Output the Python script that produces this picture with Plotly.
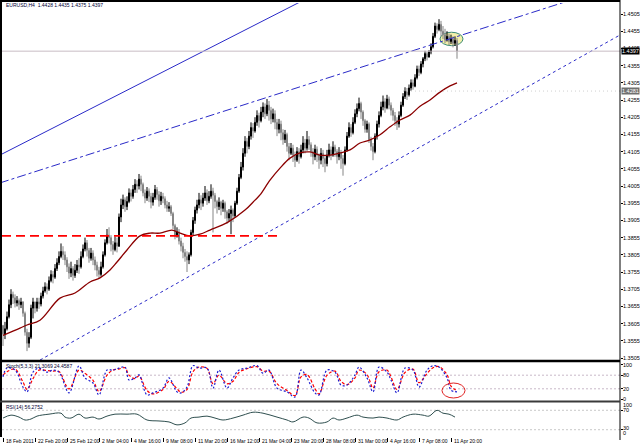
import plotly.graph_objects as go

# ---------------- data ----------------
first_open = 1.3600
bar_close = [
    1.3575, 1.3590, 1.3625, 1.3660, 1.3690, 1.3680, 1.3665, 1.3672, 1.3660, 1.3668,
    1.3635, 1.3580, 1.3548, 1.3565, 1.3650, 1.3668, 1.3650, 1.3668, 1.3662, 1.3685,
    1.3700, 1.3712, 1.3705, 1.3730, 1.3748, 1.3740, 1.3765, 1.3782, 1.3800, 1.3815,
    1.3805, 1.3790, 1.3770, 1.3752, 1.3765, 1.3745, 1.3760, 1.3775, 1.3770, 1.3800,
    1.3822, 1.3840, 1.3818, 1.3795, 1.3810, 1.3790, 1.3775, 1.3760, 1.3748, 1.3770,
    1.3805, 1.3840, 1.3862, 1.3855, 1.3835, 1.3820, 1.3840, 1.3830, 1.3915, 1.3950,
    1.3965, 1.3945, 1.3960, 1.3985, 1.3975, 1.3995, 1.4010, 1.4005, 1.4025, 1.4010,
    1.3985, 1.3970, 1.3990, 1.3975, 1.3958, 1.3972, 1.3995, 1.3980, 1.3962, 1.3975,
    1.3968, 1.3950, 1.3940, 1.3945, 1.3925, 1.3890, 1.3860, 1.3872, 1.3845, 1.3830,
    1.3812, 1.3800, 1.3790, 1.3805, 1.3870, 1.3905, 1.3935, 1.3950, 1.3965, 1.3955,
    1.3970, 1.3985, 1.3962, 1.3975, 1.3990, 1.3978, 1.3960, 1.3945, 1.3958, 1.3940,
    1.3955, 1.3930, 1.3912, 1.3925, 1.3935, 1.3918, 1.3955, 1.3990, 1.4030, 1.4060,
    1.4100, 1.4135, 1.4120, 1.4150, 1.4175, 1.4165, 1.4190, 1.4210, 1.4195, 1.4220,
    1.4235, 1.4215, 1.4240, 1.4225, 1.4200, 1.4215, 1.4190, 1.4170, 1.4185, 1.4160,
    1.4140, 1.4155, 1.4120, 1.4100, 1.4115, 1.4095, 1.4080, 1.4105, 1.4090, 1.4110,
    1.4130, 1.4115, 1.4140, 1.4125, 1.4105, 1.4090, 1.4112, 1.4095, 1.4080, 1.4100,
    1.4085, 1.4070, 1.4095, 1.4110, 1.4095, 1.4118, 1.4105, 1.4090, 1.4102, 1.4085,
    1.4070, 1.4110, 1.4150, 1.4175, 1.4160, 1.4190, 1.4215, 1.4230, 1.4245, 1.4220,
    1.4195, 1.4170, 1.4185, 1.4140, 1.4120, 1.4105, 1.4150, 1.4185, 1.4210, 1.4235,
    1.4250, 1.4232, 1.4258, 1.4240, 1.4225, 1.4210, 1.4195, 1.4185, 1.4210, 1.4240,
    1.4265, 1.4280, 1.4270, 1.4290, 1.4305, 1.4295, 1.4320, 1.4345, 1.4335, 1.4360,
    1.4375, 1.4390, 1.4380, 1.4395, 1.4410, 1.4440, 1.4470, 1.4460, 1.4475, 1.4455,
    1.4445, 1.4430, 1.4440, 1.4425, 1.4432, 1.4420, 1.4428, 1.4397,
]
bar_high = [
    1.3600, 1.3610, 1.3640, 1.3675, 1.3705, 1.3698, 1.3690, 1.3685, 1.3678, 1.3680,
    1.3670, 1.3640, 1.3590, 1.3580, 1.3660, 1.3680, 1.3668, 1.3680, 1.3680, 1.3695,
    1.3712, 1.3725, 1.3722, 1.3742, 1.3760, 1.3758, 1.3778, 1.3795, 1.3815, 1.3838,
    1.3830, 1.3815, 1.3798, 1.3780, 1.3785, 1.3772, 1.3778, 1.3790, 1.3795, 1.3815,
    1.3835, 1.3855, 1.3848, 1.3825, 1.3825, 1.3818, 1.3800, 1.3785, 1.3770, 1.3785,
    1.3815, 1.3850, 1.3880, 1.3885, 1.3862, 1.3845, 1.3858, 1.3855, 1.3925, 1.3968,
    1.3980, 1.3972, 1.3975, 1.3998, 1.3995, 1.4008, 1.4025, 1.4022, 1.4040, 1.4035,
    1.4015, 1.3995, 1.4002, 1.3998, 1.3985, 1.3985, 1.4008, 1.4002, 1.3990, 1.3988,
    1.3985, 1.3975, 1.3962, 1.3958, 1.3950, 1.3930, 1.3895, 1.3885, 1.3880, 1.3855,
    1.3840, 1.3822, 1.3815, 1.3812, 1.3878, 1.3915, 1.3945, 1.3965, 1.3985, 1.3978,
    1.3985, 1.4005, 1.3995, 1.3990, 1.4010, 1.4000, 1.3985, 1.3965, 1.3972, 1.3962,
    1.3965, 1.3960, 1.3935, 1.3938, 1.3948, 1.3940, 1.3962, 1.4000, 1.4040, 1.4075,
    1.4115, 1.4150, 1.4145, 1.4165, 1.4190, 1.4188, 1.4205, 1.4225, 1.4218, 1.4235,
    1.4248, 1.4245, 1.4258, 1.4252, 1.4235, 1.4230, 1.4225, 1.4200, 1.4200, 1.4195,
    1.4170, 1.4168, 1.4160, 1.4130, 1.4130, 1.4125, 1.4105, 1.4118, 1.4115, 1.4125,
    1.4150, 1.4142, 1.4165, 1.4150, 1.4132, 1.4115, 1.4125, 1.4120, 1.4100, 1.4115,
    1.4110, 1.4095, 1.4110, 1.4128, 1.4120, 1.4135, 1.4125, 1.4112, 1.4118, 1.4110,
    1.4095, 1.4120, 1.4162, 1.4190, 1.4185, 1.4205, 1.4228, 1.4245, 1.4262, 1.4250,
    1.4225, 1.4200, 1.4195, 1.4190, 1.4148, 1.4130, 1.4158, 1.4195, 1.4222, 1.4250,
    1.4268, 1.4260, 1.4270, 1.4265, 1.4248, 1.4232, 1.4220, 1.4205, 1.4222, 1.4250,
    1.4275, 1.4292, 1.4290, 1.4300, 1.4315, 1.4315, 1.4330, 1.4355, 1.4355, 1.4368,
    1.4380, 1.4398, 1.4395, 1.4400, 1.4420, 1.4450, 1.4480, 1.4478, 1.4490, 1.4485,
    1.4470, 1.4462, 1.4455, 1.4448, 1.4445, 1.4440, 1.4440, 1.4435,
]
bar_low = [
    1.3540, 1.3560, 1.3585, 1.3620, 1.3650, 1.3662, 1.3652, 1.3655, 1.3645, 1.3650,
    1.3625, 1.3570, 1.3525, 1.3535, 1.3560, 1.3620, 1.3635, 1.3640, 1.3648, 1.3655,
    1.3678, 1.3695, 1.3690, 1.3700, 1.3725, 1.3722, 1.3735, 1.3758, 1.3775, 1.3795,
    1.3790, 1.3775, 1.3755, 1.3735, 1.3740, 1.3730, 1.3738, 1.3752, 1.3750, 1.3765,
    1.3795, 1.3815, 1.3800, 1.3782, 1.3788, 1.3775, 1.3760, 1.3742, 1.3735, 1.3742,
    1.3765, 1.3800, 1.3835, 1.3838, 1.3815, 1.3805, 1.3815, 1.3812, 1.3828, 1.3900,
    1.3938, 1.3930, 1.3935, 1.3955, 1.3960, 1.3968, 1.3985, 1.3985, 1.3995, 1.3990,
    1.3975, 1.3955, 1.3962, 1.3958, 1.3940, 1.3948, 1.3965, 1.3965, 1.3945, 1.3950,
    1.3955, 1.3940, 1.3930, 1.3930, 1.3918, 1.3880, 1.3850, 1.3855, 1.3835, 1.3815,
    1.3795, 1.3785, 1.3755, 1.3778, 1.3800, 1.3860, 1.3895, 1.3925, 1.3940, 1.3935,
    1.3945, 1.3962, 1.3950, 1.3955, 1.3968, 1.3870, 1.3940, 1.3925, 1.3935, 1.3920,
    1.3930, 1.3910, 1.3895, 1.3902, 1.3865, 1.3900, 1.3912, 1.3950, 1.3985, 1.4025,
    1.4050, 1.4090, 1.4100, 1.4112, 1.4140, 1.4145, 1.4160, 1.4180, 1.4175, 1.4190,
    1.4205, 1.4200, 1.4208, 1.4195, 1.4185, 1.4190, 1.4170, 1.4150, 1.4158, 1.4138,
    1.4125, 1.4130, 1.4105, 1.4080, 1.4095, 1.4075, 1.4060, 1.4075, 1.4070, 1.4085,
    1.4100, 1.4100, 1.4108, 1.4110, 1.4090, 1.4068, 1.4080, 1.4075, 1.4055, 1.4068,
    1.4060, 1.4045, 1.4062, 1.4088, 1.4080, 1.4090, 1.4090, 1.4070, 1.4080, 1.4055,
    1.4035, 1.4065, 1.4105, 1.4145, 1.4148, 1.4155, 1.4185, 1.4205, 1.4222, 1.4200,
    1.4180, 1.4160, 1.4160, 1.4130, 1.4108, 1.4080, 1.4100, 1.4140, 1.4175, 1.4205,
    1.4225, 1.4218, 1.4228, 1.4228, 1.4210, 1.4195, 1.4180, 1.4168, 1.4175, 1.4205,
    1.4235, 1.4258, 1.4255, 1.4265, 1.4282, 1.4285, 1.4292, 1.4315, 1.4325, 1.4330,
    1.4350, 1.4368, 1.4370, 1.4378, 1.4388, 1.4405, 1.4435, 1.4448, 1.4455, 1.4440,
    1.4432, 1.4420, 1.4425, 1.4415, 1.4418, 1.4408, 1.4412, 1.4375,
]
bar_open = [first_open] + bar_close[:-1]
bar_index = list(range(len(bar_close)))

# moving average
ma_bar = [0, 8.5, 12, 18.5, 28.5, 36, 43.5, 48.5, 53.5, 57, 62, 68.5, 73.5, 78.5, 84.5,
          88.5, 93.5, 98.5, 103.5, 112.5, 121, 126, 128.5, 133.5, 138.5, 143.5, 148.5,
          153.5, 158.5, 163.5, 168.5, 173.5, 178.5, 183.5, 188.5, 193.5, 198.5, 203.5,
          208.5, 213.5, 218.5, 223.5, 227]
ma_value = [1.3571, 1.3592, 1.3601, 1.3615, 1.3679, 1.3694, 1.3726, 1.3738, 1.3761, 1.3784,
            1.3819, 1.3860, 1.3868, 1.3868, 1.3877, 1.3868, 1.3860, 1.3865, 1.3877, 1.3900,
            1.3935, 1.3964, 1.3979, 1.4022, 1.4057, 1.4086, 1.4101, 1.4104, 1.4095, 1.4095,
            1.4101, 1.4110, 1.4130, 1.4139, 1.4154, 1.4177, 1.4197, 1.4211, 1.4237, 1.4255,
            1.4278, 1.4296, 1.4305]

# hand-drawn objects (bar index, price)
resistance_level = 1.3860
resistance_end_bar = 138.5
current_price = 1.4397
marked_level = 1.4281
channel_low = [(18.5, 1.3499), (308.5, 1.4444)]
channel_mid = [(-1.5, 1.4014), (281.0, 1.4540)]
channel_top = [(-1.5, 1.4095), (148.5, 1.4540)]

# stochastic (5,3,3)
stoch_bar = [0, 2, 6, 10, 12, 15, 18, 22, 25, 28, 33, 38, 41, 45, 48, 52, 55, 58, 61, 63,
             66, 68, 72, 75, 80, 83, 87, 89, 92, 95, 98, 102, 105, 108, 112, 115, 118, 122,
             127, 130, 133, 137, 142, 146, 149, 152, 156, 158, 162, 166, 169, 172, 176, 178,
             182, 185, 188, 192, 194, 197, 201, 205, 208, 212, 215, 218, 222, 224, 227]
stoch_main = [65, 91, 85, 35, 21, 79, 91, 79, 85, 79, 18, 97, 62, 47, 12, 85, 85, 91, 94, 56,
              62, 71, 12, 18, 32, 62, 21, 18, 35, 98, 91, 91, 32, 85, 32, 62, 85, 91,
              98, 76, 85, 32, 21, 6, 85, 62, 18, 12, 85, 79, 41, 41, 71, 94,
              62, 21, 94, 79, 56, 18, 91, 85, 35, 85, 98, 94, 62, 26, 21]
stoch_signal = [70, 80, 88, 50, 28, 60, 85, 84, 82, 81, 30, 85, 75, 55, 22, 70, 85, 88, 92, 70,
                60, 68, 25, 15, 28, 52, 30, 20, 28, 80, 94, 90, 45, 70, 45, 52, 78, 89,
                95, 82, 82, 45, 25, 10, 65, 72, 30, 15, 70, 82, 52, 42, 62, 85,
                72, 32, 80, 85, 65, 28, 78, 88, 48, 75, 92, 95, 72, 38, 24]

# RSI(14)
rsi_bar = [0, 4, 8, 11, 14, 17, 23, 29, 31, 34, 38, 41, 45, 48, 52, 56, 62, 67, 72, 78,
           83, 87, 91, 94, 98, 102, 106, 110, 115, 120, 125, 130, 137, 142, 145, 150, 153,
           157, 162, 165, 168, 172, 177, 180, 185, 188, 192, 197, 200, 205, 210, 213, 217,
           220, 223, 226]
rsi_value = [54, 60, 56, 50, 52, 58, 62, 64, 56, 54, 62, 54, 56, 52, 58, 62, 62, 62, 50, 48,
             46, 40, 44, 54, 56, 58, 54, 50, 54, 60, 66, 64, 56, 50, 46, 56, 54,
             44, 46, 54, 50, 54, 60, 56, 54, 56, 54, 50, 56, 62, 60, 58, 70,
             64, 62, 56]

# axis labels
price_ticks = [1.3505, 1.3555, 1.3605, 1.3655, 1.3705, 1.3755, 1.3805, 1.3855, 1.3905,
               1.3955, 1.4005, 1.4055, 1.4105, 1.4155, 1.4205, 1.4255, 1.4305, 1.4355,
               1.4405, 1.4455, 1.4505]
date_label_bar = [0, 16, 32, 48, 64, 80, 96, 112, 128, 144, 160, 176, 192, 208, 224]
date_labels = ["18 Feb 2011", "22 Feb 20:00", "25 Feb 12:00", "2 Mar 04:00", "4 Mar 16:00",
               "9 Mar 08:00", "11 Mar 20:00", "16 Mar 12:00", "21 Mar 04:00", "23 Mar 20:00",
               "28 Mar 08:00", "31 Mar 00:00", "4 Apr 16:00", "7 Apr 08:00", "11 Apr 20:00"]
stoch_levels = [30, 70]
stoch_label_vals = [100, 70, 30, 0]
stoch_label_text = ["100", "80", "20", "0"]
rsi_levels = [30, 70]
rsi_label_text = ["100", "70", "30", "0"]

header_main = "EURUSD,H4  1.4428 1.4435 1.4375 1.4397"
header_stoch = "Stoch(5,3,3) 21.3069 24.4587"
header_rsi = "RSI(14) 56.2752"

# ---------------- figure ----------------
W, H = 640, 445
def py(p):  # pixel row -> paper y
    return 1 - p / H

FONT = "Liberation Sans, Arial, sans-serif"
XDOM = [2 / W, 620 / W]
XR = [-0.5, 308.5]
AXR = 622 / W  # left edge of right-hand labels

fig = go.Figure()

fig.add_trace(go.Candlestick(
    x=bar_index, open=bar_open, high=bar_high, low=bar_low, close=bar_close,
    increasing=dict(line=dict(color="#000000", width=1), fillcolor="#000000"),
    decreasing=dict(line=dict(color="#858585", width=1), fillcolor="#ffffff"),
    whiskerwidth=0, xaxis="x", yaxis="y", showlegend=False, hoverinfo="skip"))

fig.add_trace(go.Scatter(x=ma_bar, y=ma_value, mode="lines", xaxis="x", yaxis="y",
                         line=dict(color="#8b0000", width=1.3, shape="spline"),
                         showlegend=False, hoverinfo="skip"))

for pts, dash in [(channel_low, "dot"), (channel_mid, "dashdot"), (channel_top, "solid")]:
    fig.add_trace(go.Scatter(x=[p[0] for p in pts], y=[p[1] for p in pts], mode="lines",
                             xaxis="x", yaxis="y",
                             line=dict(color="#2a2ac8", width=1, dash=dash),
                             showlegend=False, hoverinfo="skip"))

fig.add_trace(go.Scatter(x=[XR[0], resistance_end_bar], y=[resistance_level] * 2, mode="lines",
                         xaxis="x", yaxis="y",
                         line=dict(color="#ff0000", width=1.6, dash="9px,5px"),
                         showlegend=False, hoverinfo="skip"))
fig.add_trace(go.Scatter(x=XR, y=[current_price] * 2, mode="lines", xaxis="x", yaxis="y",
                         line=dict(color="#c8bcc4", width=1), showlegend=False, hoverinfo="skip"))
fig.add_trace(go.Scatter(x=[200, XR[1]], y=[marked_level] * 2, mode="lines", xaxis="x", yaxis="y",
                         line=dict(color="#d0d0d0", width=1, dash="1px,3px"),
                         showlegend=False, hoverinfo="skip"))

# stochastic window
for lv in stoch_levels:
    fig.add_trace(go.Scatter(x=XR, y=[lv, lv], mode="lines", xaxis="x2", yaxis="y2",
                             line=dict(color="#c8b8c8", width=1, dash="2px,2px"),
                             showlegend=False, hoverinfo="skip"))
fig.add_trace(go.Scatter(x=stoch_bar, y=stoch_signal, mode="lines", xaxis="x2", yaxis="y2",
                         line=dict(color="#ff0000", width=1.2, dash="3px,2px", shape="spline"),
                         showlegend=False, hoverinfo="skip"))
fig.add_trace(go.Scatter(x=stoch_bar, y=stoch_main, mode="lines", xaxis="x2", yaxis="y2",
                         line=dict(color="#1a1ad0", width=1.2, dash="2px,2px", shape="spline"),
                         showlegend=False, hoverinfo="skip"))

# RSI window
for lv in rsi_levels:
    fig.add_trace(go.Scatter(x=XR, y=[lv, lv], mode="lines", xaxis="x3", yaxis="y3",
                             line=dict(color="#c8c8c8", width=1, dash="2px,2px"),
                             showlegend=False, hoverinfo="skip"))
fig.add_trace(go.Scatter(x=rsi_bar, y=rsi_value, mode="lines", xaxis="x3", yaxis="y3",
                         line=dict(color="#2f4f4f", width=1, shape="spline"),
                         showlegend=False, hoverinfo="skip"))

axis_common = dict(showgrid=False, zeroline=False, showline=False, automargin=False,
                   fixedrange=True)
fig.update_layout(
    width=W, height=H, autosize=False,
    margin=dict(l=0, r=0, t=0, b=0, autoexpand=False),
    paper_bgcolor="white", plot_bgcolor="white",
    showlegend=False, hovermode=False, dragmode=False,
    font=dict(family=FONT, size=5, color="#000000"),
    xaxis=dict(domain=XDOM, range=XR, showticklabels=False, ticks="",
               rangeslider=dict(visible=False), **axis_common),
    yaxis=dict(domain=[py(360), py(3)], range=[1.34992, 1.45370], side="right",
               tickvals=price_ticks, showticklabels=False,
               ticks="outside", ticklen=2, tickcolor="#000", **axis_common),
    xaxis2=dict(domain=XDOM, range=XR, anchor="y2", showticklabels=False, ticks="",
                **axis_common),
    yaxis2=dict(domain=[py(400), py(362)], range=[-2.9, 108.8], anchor="x2", side="right",
                tickvals=stoch_label_vals, showticklabels=False,
                ticks="outside", ticklen=2, tickcolor="#000", **axis_common),
    xaxis3=dict(domain=XDOM, range=XR, anchor="y3", showticklabels=False,
                tickvals=date_label_bar, ticks="outside", ticklen=4, tickcolor="#000",
                **axis_common),
    yaxis3=dict(domain=[py(437), py(403)], range=[15, 85], anchor="x3", side="right",
                tickvals=rsi_levels, showticklabels=False,
                ticks="outside", ticklen=2, tickcolor="#000", **axis_common),
)

shapes = []
def hline(ypix, x0pix, x1pix, color, width):
    shapes.append(dict(type="line", xref="paper", yref="paper", x0=x0pix / W, x1=x1pix / W,
                       y0=py(ypix), y1=py(ypix), line=dict(color=color, width=width)))
def vline(xpix, y0pix, y1pix, color, width):
    shapes.append(dict(type="line", xref="paper", yref="paper", x0=xpix / W, x1=xpix / W,
                       y0=py(y0pix), y1=py(y1pix), line=dict(color=color, width=width)))

hline(1, 0, 620, "#000", 2)
vline(1, 0, 437, "#000", 2)
vline(620, 0, 440, "#000", 1)
hline(361, 0, 620, "#000", 2.5)
hline(401.5, 0, 620, "#3a3a3a", 2)

# highlighted ellipses
shapes.append(dict(type="circle", xref="x", yref="y", x0=218.5, x1=230, y0=1.4413, y1=1.4452,
                   fillcolor="rgba(240,236,150,0.8)", line=dict(color="#3c8c78", width=1),
                   layer="below"))
shapes.append(dict(type="circle", xref="x2", yref="y2", x0=219.5, x1=231, y0=3, y1=47,
                   line=dict(color="#e02020", width=1)))
fig.update_layout(shapes=shapes)

ann = []
def text(t, xref, x, yref, y, size=5, color="#000000", anchor="left", bg=None):
    d = dict(text=t, xref=xref, yref=yref, x=x, y=y, xanchor=anchor, yanchor="middle",
             showarrow=False, font=dict(size=size, color=color, family=FONT), borderpad=0)
    if bg:
        d["bgcolor"] = bg
    ann.append(d)

text(header_main, "paper", 5 / W, "paper", py(5), size=5, color="#000033")
text(header_stoch, "paper", 5 / W, "paper", py(366), size=5, color="#000033")
text(header_rsi, "paper", 5 / W, "paper", py(407), size=5, color="#000033")

for v in price_ticks:
    text(f"{v:.4f}", "paper", AXR, "y", v, size=5.5)
text(f"{current_price:.4f}", "paper", AXR - 1 / W, "y", current_price, size=5.5,
     color="#ffffff", bg="#000000")
text(f"{marked_level:.4f}", "paper", AXR - 1 / W, "y", marked_level, size=5.5,
     color="#ffffff", bg="#707070")

for v, t in zip(stoch_label_vals, stoch_label_text):
    text(t, "paper", AXR, "y2", v, size=5.5)

rsi_label_pix = [405, 410, 428, 433]
for p, t in zip(rsi_label_pix, rsi_label_text):
    text(t, "paper", AXR, "paper", py(p), size=5.5)

for b, t in zip(date_label_bar, date_labels):
    text(t, "x3", b + 0.8, "paper", py(441), size=5)

fig.update_layout(annotations=ann)

fig.write_html("out.html",
               config={"displayModeBar": False, "staticPlot": True},
               post_script="document.body.style.margin='0';document.body.style.overflow='hidden';")
